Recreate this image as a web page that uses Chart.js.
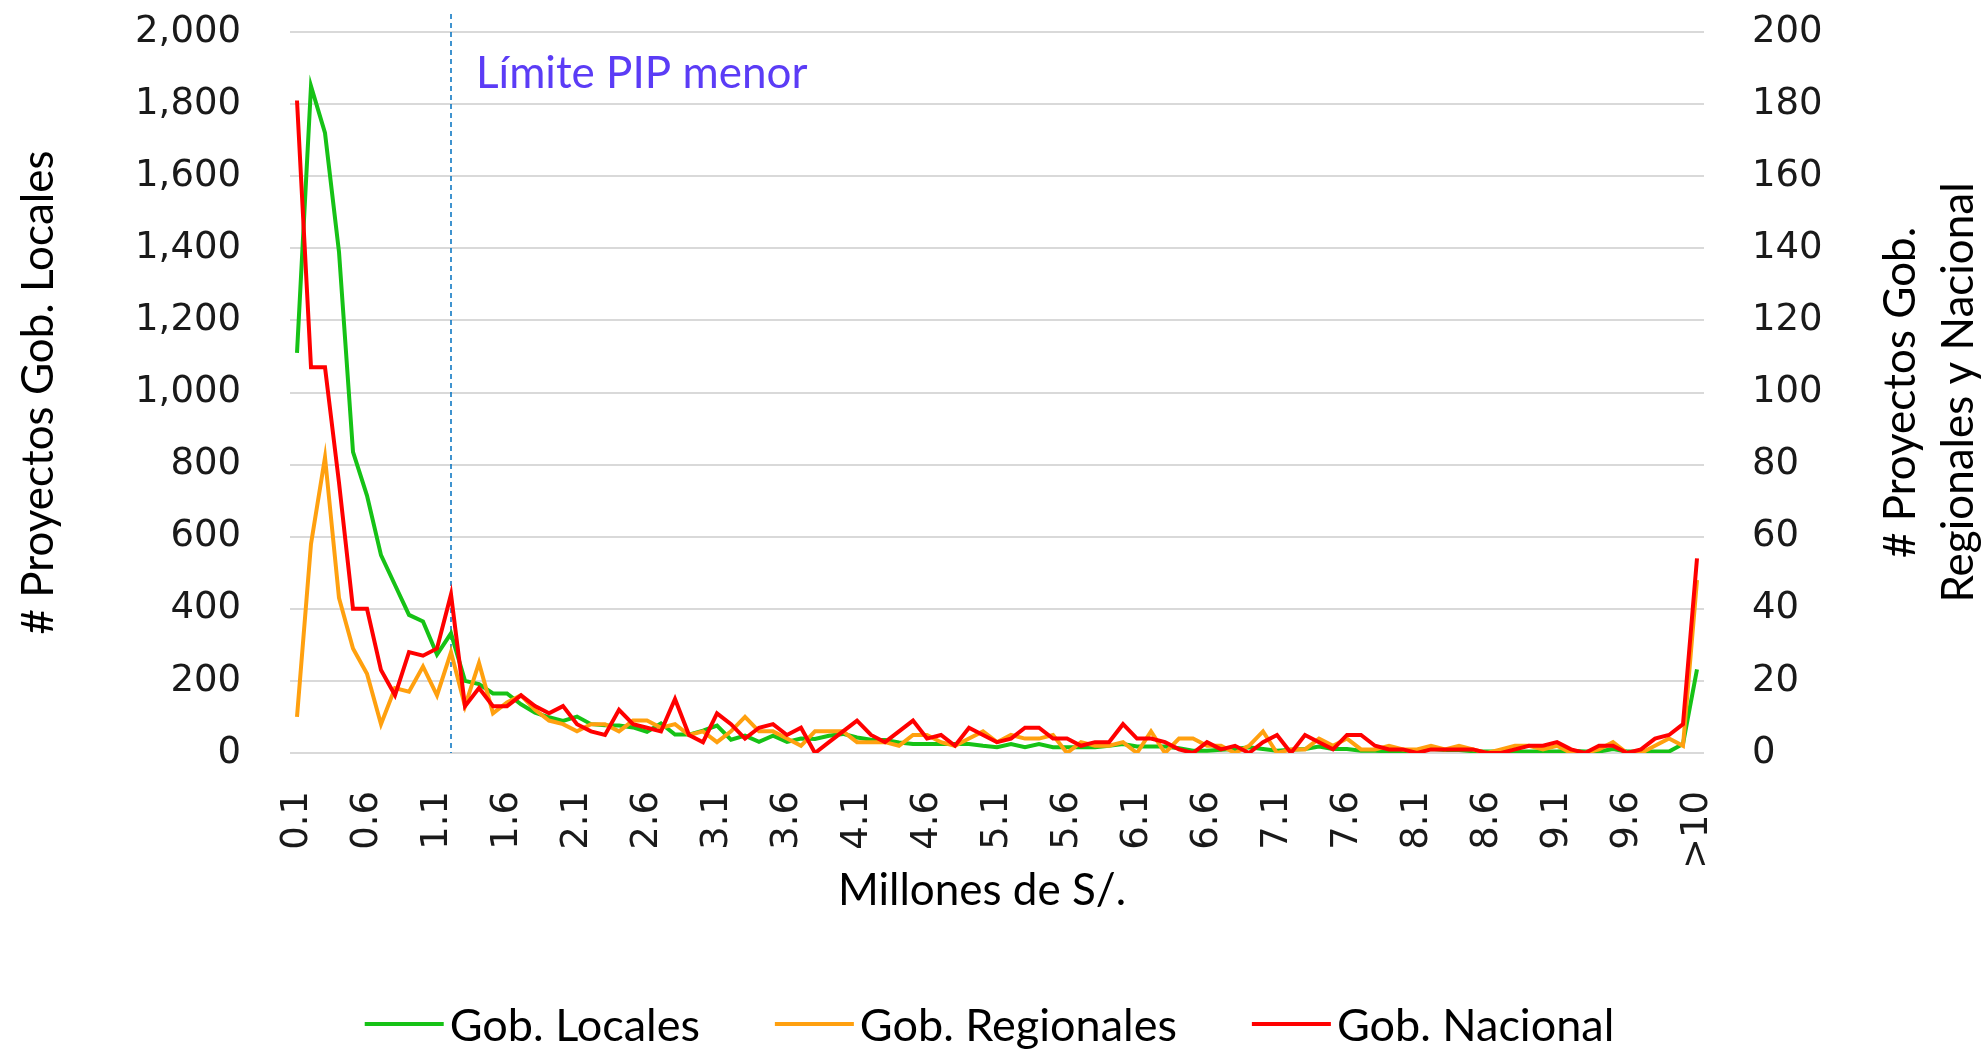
<!DOCTYPE html>
<html>
<head>
<meta charset="utf-8">
<title>Proyectos por monto</title>
<script src="https://cdn.jsdelivr.net/npm/chart.js@4.4.0/dist/chart.umd.min.js"></script>
<style>
    html, body { margin: 0; padding: 0; background: #ffffff; }
    #wrap { width: 1987px; height: 1052px; }
</style>
</head>
<body>
<div id="wrap"><canvas id="chart" width="1987" height="1052"></canvas></div>
<script>
// --- DATA ---
// categories: 0.1 ... 10.0 (millones de S/.) and a last bucket ">10"
const categories = [];
for (let i = 1; i <= 100; i++) categories.push((i / 10).toFixed(1));
categories.push('>10');

// Gob. Locales (left axis)
const locales = [
    1110, 1850, 1720, 1390, 835, 714, 549, 466, 383, 365,
    273, 332, 200, 191, 165, 165, 135, 112, 99, 89,
    101, 80, 77, 76, 71, 59, 82, 51, 51, 62,
    76, 37, 48, 31, 48, 31, 40, 39, 48, 53,
    43, 37, 36, 29, 25, 25, 25, 25, 25, 20,
    16, 25, 16, 25, 16, 16, 16, 16, 20, 25,
    18, 18, 18, 13, 6, 6, 9, 11, 16, 11,
    6, 9, 11, 18, 11, 11, 6, 6, 5, 5,
    8, 11, 8, 8, 5, 4, 4, 4, 4, 4,
    4, 6, 4, 4, 11, 4, 4, 4, 4, 25,
    232
];

// Gob. Regionales (right axis)
const regionales = [
    10, 58, 82, 43, 29, 22, 8, 18, 17, 24,
    16, 28, 13, 25, 11, 14, 16, 12, 9, 8,
    6, 8, 8, 6, 9, 9, 7, 8, 5, 6,
    3, 6, 10, 6, 6, 4, 2, 6, 6, 6,
    3, 3, 3, 2, 5, 5, 3, 2, 4, 6,
    3, 5, 4, 4, 5, 0, 3, 2, 2, 3,
    0, 6, 0, 4, 4, 2, 2, 0, 2, 6,
    0, 1, 1, 4, 2, 4, 1, 1, 2, 1,
    1, 2, 1, 2, 1, 0, 1, 2, 2, 1,
    2, 0, 0, 1, 3, 0, 0, 2, 4, 2,
    48
];

// Gob. Nacional (right axis)
const nacional = [
    181, 107, 107, 75, 40, 40, 23, 16, 28, 27,
    29, 44, 13, 18, 13, 13, 16, 13, 11, 13,
    8, 6, 5, 12, 8, 7, 6, 15, 5, 3,
    11, 8, 4, 7, 8, 5, 7, 0, 3, 6,
    9, 5, 3, 6, 9, 4, 5, 2, 7, 5,
    3, 4, 7, 7, 4, 4, 2, 3, 3, 8,
    4, 4, 3, 1, 0, 3, 1, 2, 0, 3,
    5, 0, 5, 3, 1, 5, 5, 2, 1, 1,
    0, 1, 1, 1, 1, 0, 0, 1, 2, 2,
    3, 1, 0, 2, 2, 0, 1, 4, 5, 8,
    54
];

// axis ranges
const leftTicks = [0, 2000, 200];
const rightTicks = [0, 200, 20];
const limitLabel = '1.2';

// --- COLORS / FONTS ---
const colors = {
    green: '#16c216',
    orange: '#ffa00f',
    red: '#ff0000',
    grid: '#d9d9d9',
    limit: '#0070c0',
    limitText: '#5b3cf6',
    text: '#000000',
    tick: '#1a1a1a'
};
const tickFont = { family: '"DejaVu Sans", Verdana, sans-serif', size: 37 };
const textFont = '44px Lato, "Open Sans", sans-serif';
const legendFont = '45px Lato, "Open Sans", sans-serif';

// keep the plot box fixed: no extra room for the half tick labels
function noPad(scale) {
    scale.paddingTop = 0;
    scale.paddingBottom = 0;
}

// --- EXTRA DRAWING: limit line, titles, legend ---
const overlay = {
    id: 'overlay',
    beforeDatasetsDraw(chart) {
        const { ctx, chartArea, scales } = chart;
        const x = scales.x.getPixelForValue(categories.indexOf(limitLabel));
        ctx.save();
        ctx.strokeStyle = colors.limit;
        ctx.lineWidth = 1.5;
        ctx.setLineDash([5, 4]);
        ctx.beginPath();
        ctx.moveTo(x, 14);
        ctx.lineTo(x, chartArea.bottom);
        ctx.stroke();
        ctx.restore();
    },
    afterDraw(chart) {
        const { ctx, chartArea, scales } = chart;
        const midY = (chartArea.top + chartArea.bottom) / 2;
        ctx.save();
        ctx.font = textFont;
        ctx.textBaseline = 'middle';

        // limit annotation
        const lx = scales.x.getPixelForValue(categories.indexOf(limitLabel));
        ctx.fillStyle = colors.limitText;
        ctx.textAlign = 'left';
        ctx.fillText('Límite PIP menor', lx + 25, 74);

        ctx.fillStyle = colors.text;
        ctx.textAlign = 'center';

        // x title
        ctx.fillText('Millones de S/.', 982, 891);

        // left title
        ctx.save();
        ctx.translate(39, midY);
        ctx.rotate(-Math.PI / 2);
        ctx.fillText('# Proyectos Gob. Locales', 0, 0);
        ctx.restore();

        // right title (two lines)
        ctx.save();
        ctx.translate(1930, midY);
        ctx.rotate(-Math.PI / 2);
        ctx.fillText('# Proyectos Gob.', 0, -29);
        ctx.fillText('Regionales y Nacional', 0, 29);
        ctx.restore();

        // legend
        ctx.font = legendFont;
        const items = chart.data.datasets.map(d => ({ text: d.label, color: d.borderColor }));
        const lineLen = 79, gapText = 6, gapItem = 75;
        const widths = items.map(it => lineLen + gapText + ctx.measureText(it.text).width);
        const total = widths.reduce((a, b) => a + b, 0) + gapItem * (items.length - 1);
        let x = chart.width / 2 - total / 2 - 4;
        const ly = 1024;
        ctx.textAlign = 'left';
        items.forEach((it, i) => {
            ctx.strokeStyle = it.color;
            ctx.lineWidth = 4;
            ctx.beginPath();
            ctx.moveTo(x, ly);
            ctx.lineTo(x + lineLen, ly);
            ctx.stroke();
            ctx.fillStyle = colors.text;
            ctx.fillText(it.text, x + lineLen + gapText, ly + 2);
            x += widths[i] + gapItem;
        });
        ctx.restore();
    }
};

// --- CHART ---
const ctx = document.getElementById('chart').getContext('2d');
const chart = new Chart(ctx, {
    type: 'line',
    data: {
        labels: categories,
        datasets: [
            {
                label: 'Gob. Locales',
                data: locales,
                yAxisID: 'y',
                borderColor: colors.green,
                borderWidth: 4,
                pointRadius: 0,
                tension: 0,
                order: 2
            },
            {
                label: 'Gob. Regionales',
                data: regionales,
                yAxisID: 'y1',
                borderColor: colors.orange,
                borderWidth: 4,
                pointRadius: 0,
                tension: 0,
                order: 1
            },
            {
                label: 'Gob. Nacional',
                data: nacional,
                yAxisID: 'y1',
                borderColor: colors.red,
                borderWidth: 4,
                pointRadius: 0,
                tension: 0,
                order: 0
            }
        ]
    },
    options: {
        responsive: false,
        animation: false,
        devicePixelRatio: 1,
        layout: { padding: { top: 32, left: 0, right: 0, bottom: 0 } },
        plugins: {
            legend: { display: false },
            tooltip: { enabled: false }
        },
        scales: {
            x: {
                type: 'category',
                offset: true,
                grid: { display: false },
                border: { display: false },
                ticks: {
                    autoSkip: false,
                    minRotation: 90,
                    maxRotation: 90,
                    padding: 30,
                    color: colors.tick,
                    font: tickFont,
                    callback: (val, i) => (i % 5 === 0 ? categories[i] : '')
                },
                afterFit: (scale) => { scale.height = 299; }
            },
            y: {
                position: 'left',
                min: leftTicks[0],
                max: leftTicks[1],
                grid: { color: colors.grid, lineWidth: 2, drawTicks: false },
                border: { display: false },
                ticks: {
                    stepSize: leftTicks[2],
                    padding: 49,
                    color: colors.tick,
                    font: tickFont,
                    callback: (v) => v.toLocaleString('en-US')
                },
                afterFit: (scale) => { scale.width = 290; noPad(scale); }
            },
            y1: {
                position: 'right',
                min: rightTicks[0],
                max: rightTicks[1],
                grid: { display: false, drawTicks: false },
                border: { display: false },
                ticks: {
                    stepSize: rightTicks[2],
                    padding: 48,
                    color: colors.tick,
                    font: tickFont
                },
                afterFit: (scale) => { scale.width = 283; noPad(scale); }
            }
        }
    },
    plugins: [overlay]
});
</script>
</body>
</html>
